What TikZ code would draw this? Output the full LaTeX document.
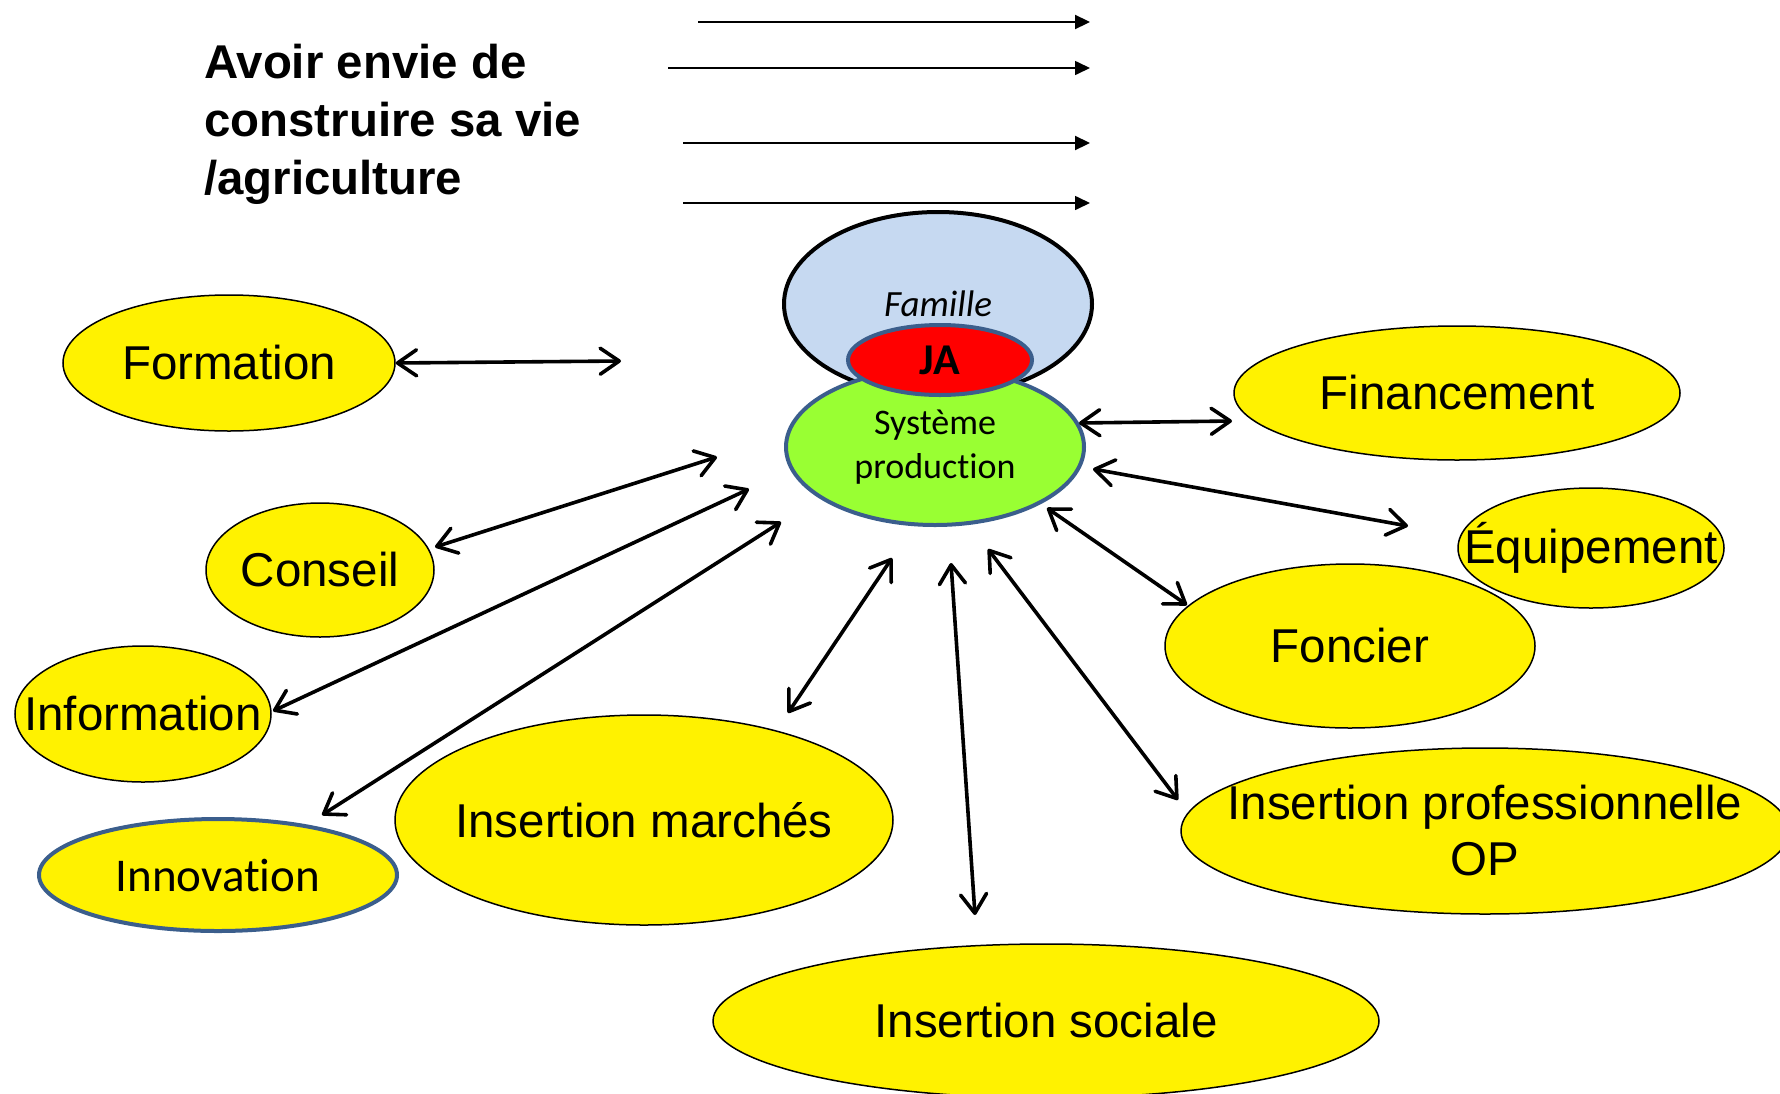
\documentclass[tikz,border=0pt]{standalone}
\usepackage{fontspec}
\setmainfont{Liberation Sans}
\newfontfamily\calibri[Ligatures={NoCommon,NoContextual}]{Carlito}
\usetikzlibrary{arrows.meta,shapes.geometric}
\definecolor{famblue}{HTML}{C6D9F1}
\definecolor{sysgreen}{HTML}{99FF33}
\definecolor{edgeblue}{HTML}{3B5E8C}
\begin{document}
\begin{tikzpicture}[x=1pt,y=-1pt,
  yel/.style={ellipse, draw=black, line width=1.5pt, fill=yellow, inner sep=0pt},
  lab/.style={font=\fontsize{47.5}{56}\selectfont, inner sep=0pt, align=center},
  clab/.style={font=\calibri\fontsize{47}{56}\selectfont, inner sep=0pt},
  dbl/.style={{Straight Barb[length=19pt,width=26pt,round]}-{Straight Barb[length=19pt,width=26pt,round]}, line width=3.6pt},
  topar/.style={-{Triangle[length=15pt,width=14pt]}}
]
\useasboundingbox (0,0) rectangle (1780,1093);

% title
\node[anchor=north west, inner sep=0pt, align=left,
      font=\bfseries\fontsize{47.4}{58}\selectfont] (title) at (204,44)
  {Avoir envie de\\construire sa vie\\/agriculture};

% top arrows
\coordinate (t1a) at (698,22);  \coordinate (t1b) at (1090,22);
\coordinate (t2a) at (668,68);  \coordinate (t2b) at (1090,68);
\coordinate (t3a) at (683,143); \coordinate (t3b) at (1090,143);
\coordinate (t4a) at (683,203); \coordinate (t4b) at (1090,203);
\draw[topar, line width=2.2pt] (t1a) -- (t1b);
\draw[topar, line width=1.6pt] (t2a) -- (t2b);
\draw[topar, line width=2.2pt] (t3a) -- (t3b);
\draw[topar, line width=1.6pt] (t4a) -- (t4b);

% central group
\node[ellipse, draw=black, line width=4pt, fill=famblue, inner sep=0pt,
      minimum width=308pt, minimum height=184pt,
      label={[font=\calibri\itshape\fontsize{37}{44}\selectfont, inner sep=0pt]center:Famille}]
      (fam) at (938,304) {};
\node[ellipse, draw=edgeblue, line width=4pt, fill=sysgreen, inner sep=0pt,
      minimum width=298pt, minimum height=156pt,
      label={[font=\calibri\fontsize{36}{44}\selectfont, inner sep=0pt, align=center]center:{Système\\production}}]
      (sys) at (935,447) {};
\node[ellipse, draw=edgeblue, line width=4pt, fill=red, inner sep=0pt,
      minimum width=184pt, minimum height=70pt,
      label={[font=\calibri\bfseries\fontsize{44}{50}\selectfont, inner sep=0pt]center:JA}]
      (ja) at (940,360) {};

% yellow ellipses
\node[yel, minimum width=332pt, minimum height=136pt, label={[lab]center:Formation}] (form) at (229,363) {};
\node[yel, minimum width=228pt, minimum height=134pt, label={[lab]center:Conseil}] (cons) at (320,570) {};
\node[yel, minimum width=256pt, minimum height=136pt, label={[lab]center:Information}] (info) at (143,714) {};
\node[yel, minimum width=498pt, minimum height=210pt, label={[lab]center:Insertion marchés}] (marc) at (644,820) {};
\node[yel, draw=edgeblue, line width=4pt, minimum width=358pt, minimum height=112pt, label={[clab]center:Innovation}] (innov) at (218,875) {};
\node[yel, minimum width=666pt, minimum height=154pt, label={[lab]center:Insertion sociale}] (soc) at (1046,1021) {};
\node[yel, minimum width=608pt, minimum height=166pt, label={[lab]center:{Insertion professionnelle\\OP}}] (prof) at (1485,831) {};
\node[yel, minimum width=370pt, minimum height=164pt, label={[lab]center:Foncier}] (fonc) at (1350,646) {};
\node[yel, minimum width=266pt, minimum height=120pt, label={[lab]center:Équipement}] (equip) at (1591,548) {};
\node[yel, minimum width=446pt, minimum height=134pt, label={[lab]center:Financement}] (fin) at (1457,393) {};

% arrow end points
\coordinate (pform) at (621,361);
\coordinate (econs) at (435,547);  \coordinate (pcons) at (717,457);
\coordinate (einfo) at (273,711);  \coordinate (pinfo) at (749,489);
\coordinate (einnov) at (322,815); \coordinate (pinnov) at (781,522);
\coordinate (emarc) at (788,713);  \coordinate (pmarc) at (892,558);
\coordinate (esoc) at (975,915);   \coordinate (psoc) at (951,563);
\coordinate (eprof) at (1178,800); \coordinate (pprof) at (988,549);
\coordinate (efonc) at (1187,605); \coordinate (pfonc) at (1047,508);
\coordinate (eequip) at (1408,526);\coordinate (pequip) at (1093,469);
\coordinate (efin) at (1232,421);  \coordinate (pfin) at (1079,423);

\draw[dbl] (form.east) -- (pform);
\draw[dbl] (econs) -- (pcons);
\draw[dbl] (einfo) -- (pinfo);
\draw[dbl] (einnov) -- (pinnov);
\draw[dbl] (emarc) -- (pmarc);
\draw[dbl] (esoc) -- (psoc);
\draw[dbl] (eprof) -- (pprof);
\draw[dbl] (efonc) -- (pfonc);
\draw[dbl] (eequip) -- (pequip);
\draw[dbl] (efin) -- (pfin);
\end{tikzpicture}
\end{document}
